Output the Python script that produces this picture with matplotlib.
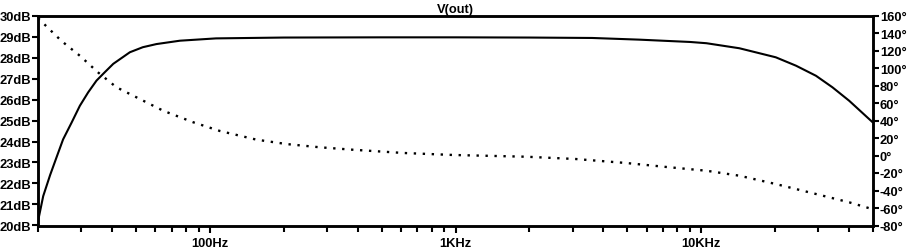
import matplotlib
matplotlib.use("Agg")
import matplotlib.pyplot as plt
from matplotlib.ticker import FixedLocator, LogLocator, NullFormatter

# Bode plot of V(out), magnitude (solid, dB) and phase (dotted, degrees)
mag_freq = [20, 21.0, 22.4, 23.8, 25.3, 27.4, 29.6, 32.0, 34.6, 37.4, 40.5, 47.3,
            53.4, 60.7, 75.6, 106, 200, 500, 1000, 2000, 3600, 5600, 7900, 9000,
            10500, 14300, 20100, 24300, 29300, 34200, 40000, 50000]
mag_db = [20.2, 21.4, 22.4, 23.25, 24.1, 24.9, 25.7, 26.34, 26.9, 27.3, 27.7,
          28.25, 28.49, 28.64, 28.8, 28.91, 28.95, 28.96, 28.96, 28.95, 28.93,
          28.85, 28.77, 28.74, 28.68, 28.44, 28.01, 27.61, 27.13, 26.58, 25.94,
          24.9]

ph_freq = [20, 24.9, 29.6, 35.1, 41.7, 51.9, 64.6, 85.6, 110, 155, 205, 280, 382,
           612, 976, 1940, 3080, 4960, 7200, 10500, 14300, 20100, 29300, 40000,
           50000]
ph_deg = [157, 131, 114, 95, 78, 64.6, 51.2, 38, 28, 18.1, 13.1, 9.4, 6.6, 2.9,
          0.6, -1.4, -4, -8.6, -13.1, -17.4, -23.1, -32.6, -44, -53.5, -61.5]

x_ticks = [100, 1000, 10000]
x_labels = ["100Hz", "1KHz", "10KHz"]
db_ticks = list(range(20, 31))
deg_ticks = list(range(-80, 161, 20))

FONT = dict(family="Liberation Sans", weight="bold", size=9.3)

fig = plt.figure(figsize=(9.13, 2.53), dpi=100)
ax = fig.add_axes([38 / 913, 26.5 / 253, 835 / 913, 210 / 253])
ax2 = ax.twinx()

ax.plot(mag_freq, mag_db, color="black", lw=1.5, solid_capstyle="butt")
ax2.plot(ph_freq, ph_deg, color="black", lw=1.7, linestyle=(0, (1.0, 2.8)))

ax.set_xscale("log")
ax.set_xlim(20, 50000)
ax.set_ylim(20, 30)
ax2.set_ylim(-80, 160)

ax.xaxis.set_major_locator(FixedLocator(x_ticks))
ax.set_xticklabels(x_labels, fontdict=FONT)
ax.xaxis.set_minor_locator(LogLocator(base=10, subs=range(2, 10), numticks=20))
ax.xaxis.set_minor_formatter(NullFormatter())

ax.set_yticks(db_ticks)
ax.set_yticklabels([f"{v}dB" for v in db_ticks], fontdict=FONT)
ax2.set_yticks(deg_ticks)
ax2.set_yticklabels([f"{v}\u00b0" for v in deg_ticks], fontdict=FONT)

ax.tick_params(axis="x", which="major", direction="out", length=5, width=1.5, pad=3)
ax.tick_params(axis="x", which="minor", direction="out", length=4, width=1.5)
ax.tick_params(axis="y", direction="out", length=4, width=1.5, pad=1)
ax2.tick_params(axis="y", direction="out", length=4, width=1.5, pad=1)

for a in (ax, ax2):
    for s in a.spines.values():
        s.set_linewidth(1.8)

ax.set_title("V(out)", fontdict=FONT, pad=2)

fig.savefig("out.png", dpi=100)
